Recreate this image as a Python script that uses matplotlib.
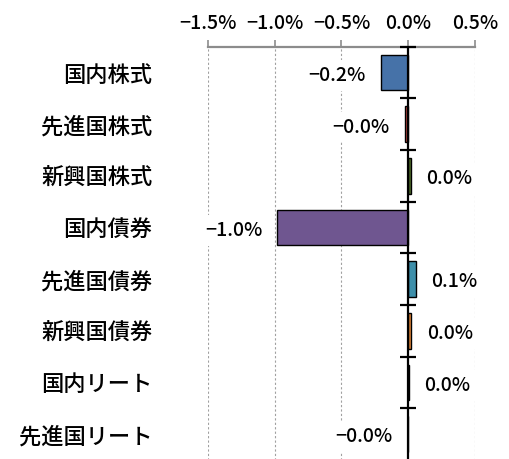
import matplotlib
matplotlib.use("Agg")
import matplotlib.pyplot as plt
import numpy as np

plt.rcParams['font.family'] = ['Noto Sans CJK JP', 'DejaVu Sans']

categories = ["国内株式", "先進国株式", "新興国株式", "国内債券",
              "先進国債券", "新興国債券", "国内リート", "先進国リート"]
values = [-0.205, -0.025, 0.02, -0.98, 0.058, 0.025, 0.003, -0.003]
colors = ["#4672A8", "#B8453F", "#4E6B2A", "#6F5690",
          "#3D8FAA", "#E3873A", "#7F7F7F", "#7F7F7F"]
xticks = [-1.5, -1.0, -0.5, 0.0, 0.5]
xtick_labels = ["−1.5%", "−1.0%", "−0.5%", "0.0%", "0.5%"]

fig = plt.figure(figsize=(5.10, 4.59), dpi=100)
ax = fig.add_axes([0.408, -0.002, 0.523, 0.900])

n = len(categories)
y = np.arange(n)
ax.barh(y, values, height=0.69, color=colors, edgecolor="black", linewidth=1.0, zorder=3)

ax.set_xlim(-1.5, 0.5)
ax.set_ylim(n - 0.5, -0.5)

# grid
for xt in xticks:
    if xt != 0:
        ax.axvline(xt, color="#A0A0A0", linestyle=(0, (2, 2)), linewidth=0.8, zorder=1)

# zero line with boundary ticks
ax.axvline(0, color="black", linewidth=1.6, zorder=4)
bounds = np.arange(n) - 0.5
ax.plot(np.zeros_like(bounds), bounds, linestyle="none", marker="_",
        markersize=11, markeredgewidth=1.6, color="black", zorder=5, clip_on=False)

# top axis
ax.xaxis.tick_top()
ax.set_xticks(xticks)
ax.set_xticklabels(xtick_labels, fontsize=14, fontweight="medium")
ax.tick_params(axis="x", direction="out", length=5, width=1.2, color="#8C8C8C", pad=5)
for s in ["left", "right", "bottom"]:
    ax.spines[s].set_visible(False)
ax.spines["top"].set_color("#8C8C8C")
ax.spines["top"].set_linewidth(1.6)

ax.set_yticks(y)
ax.set_yticklabels(categories, fontsize=16, fontweight="medium")
ax.tick_params(axis="y", length=0, pad=40)

for yi, v in zip(y, values):
    txt = f"{v:.1f}%".replace("-", "−")
    if v < 0:
        ax.annotate(txt, (v, yi), xytext=(-11, -2), textcoords="offset points",
                    ha="right", va="center", fontsize=14, fontweight="medium", zorder=6,
                    bbox=dict(boxstyle="square,pad=0.3", fc="white", ec="none"))
    else:
        ax.annotate(txt, (v, yi), xytext=(11, -2), textcoords="offset points",
                    ha="left", va="center", fontsize=14, fontweight="medium", zorder=6,
                    bbox=dict(boxstyle="square,pad=0.3", fc="white", ec="none"))

fig.savefig("out.png", dpi=100)
